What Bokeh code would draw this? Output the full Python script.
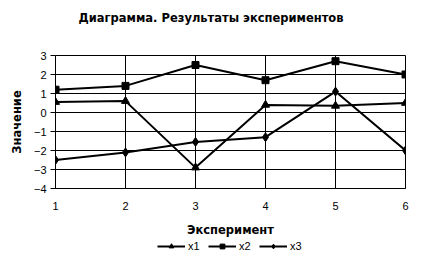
from bokeh.plotting import figure
from bokeh.models import (FixedTicker, Range1d, Legend, LegendItem, Title)
from bokeh.layouts import column
from bokeh.embed import file_html
from bokeh.resources import INLINE

experiments = [1, 2, 3, 4, 5, 6]
x1 = [0.55, 0.6, -2.9, 0.4, 0.35, 0.5]
x2 = [1.2, 1.4, 2.5, 1.7, 2.7, 2.0]
x3 = [-2.5, -2.1, -1.55, -1.3, 1.1, -2.0]
y_ticks = [-4, -3, -2, -1, 0, 1, 2, 3]
series_names = ["x1", "x2", "x3"]
markers = ["triangle", "square", "diamond"]
marker_sizes = [8, 7, 9]
title_text = "Диаграмма. Результаты экспериментов"
x_label = "Эксперимент"
y_label = "Значение"

FONT = "Liberation Sans"
BOLD_FONT = "DejaVu Sans"

p = figure(width=428, height=239, output_backend="svg", toolbar_location=None,
           x_range=Range1d(1, 6), y_range=Range1d(-4, 3),
           min_border_left=55, min_border_right=23, min_border_top=55,
           min_border_bottom=49, title=title_text)
p.background_fill_color = "white"
p.border_fill_color = "white"
p.outline_line_color = "black"
p.outline_line_width = 1

p.title.align = "left"
p.title.offset = 23
p.title.standoff = 0
p.title.text_font = BOLD_FONT
p.title.text_font_size = "11.5px"
p.title.text_font_style = "bold"
p.title.text_color = "black"

# empty spacer between the title and the plot area
p.add_layout(Title(text=" ", text_font_size="12px", standoff=15), "above")

for ax in (p.xaxis[0], p.yaxis[0]):
    ax.axis_line_color = "black"
    ax.major_label_text_font = FONT
    ax.major_label_text_font_size = "11px"
    ax.major_label_text_color = "black"
    ax.axis_label_text_font = BOLD_FONT
    ax.axis_label_text_font_size = "11.5px"
    ax.axis_label_text_font_style = "bold"
    ax.axis_label_text_color = "black"
    ax.minor_tick_line_color = None

p.xaxis.ticker = FixedTicker(ticks=experiments)
p.xaxis.major_tick_out = 0
p.xaxis.major_tick_in = 0
p.xaxis.major_label_standoff = 13
p.xaxis.axis_label = x_label
p.xaxis.axis_label_standoff = 10

p.yaxis.ticker = FixedTicker(ticks=y_ticks)
p.yaxis.major_tick_out = 5
p.yaxis.major_tick_in = 0
p.yaxis.major_tick_line_color = "black"
p.yaxis.major_label_standoff = 4
p.yaxis.axis_label = y_label
p.yaxis.axis_label_standoff = 7

p.xgrid.ticker = FixedTicker(ticks=experiments)
p.ygrid.ticker = FixedTicker(ticks=y_ticks)
for g in (p.xgrid, p.ygrid):
    g.grid_line_color = "black"
    g.grid_line_width = 1
    g.grid_line_alpha = 1

for ys, mk, ms in zip([x1, x2, x3], markers, marker_sizes):
    p.line(experiments, ys, line_color="black", line_width=2)
    p.scatter(experiments, ys, marker=mk, size=ms, color="black")

# legend strip below the chart (its glyph renderers sit outside its range)
lf = figure(width=428, height=26, output_backend="svg", toolbar_location=None,
            x_range=Range1d(0, 1), y_range=Range1d(0, 1),
            x_axis_type=None, y_axis_type=None, min_border=0)
lf.outline_line_color = None
lf.background_fill_color = "white"
lf.border_fill_color = "white"

items = []
for name, mk, ms in zip(series_names, markers, marker_sizes):
    lr = lf.line([-10, -9], [-10, -10], line_color="black", line_width=2)
    sr = lf.scatter([-10], [-10], marker=mk, size=ms - 2, color="black")
    items.append(LegendItem(label=name, renderers=[lr, sr]))

legend = Legend(items=items, orientation="horizontal", location=(102, 13),
                glyph_width=28, glyph_height=12, label_height=12,
                label_width=12, label_standoff=3, spacing=8, padding=0,
                margin=0, border_line_color=None, background_fill_alpha=0,
                label_text_font=FONT, label_text_font_size="11px",
                label_text_color="black")
lf.add_layout(legend, "center")

layout = column(p, lf, spacing=0)
open("out.html", "w").write(file_html(layout, INLINE))
